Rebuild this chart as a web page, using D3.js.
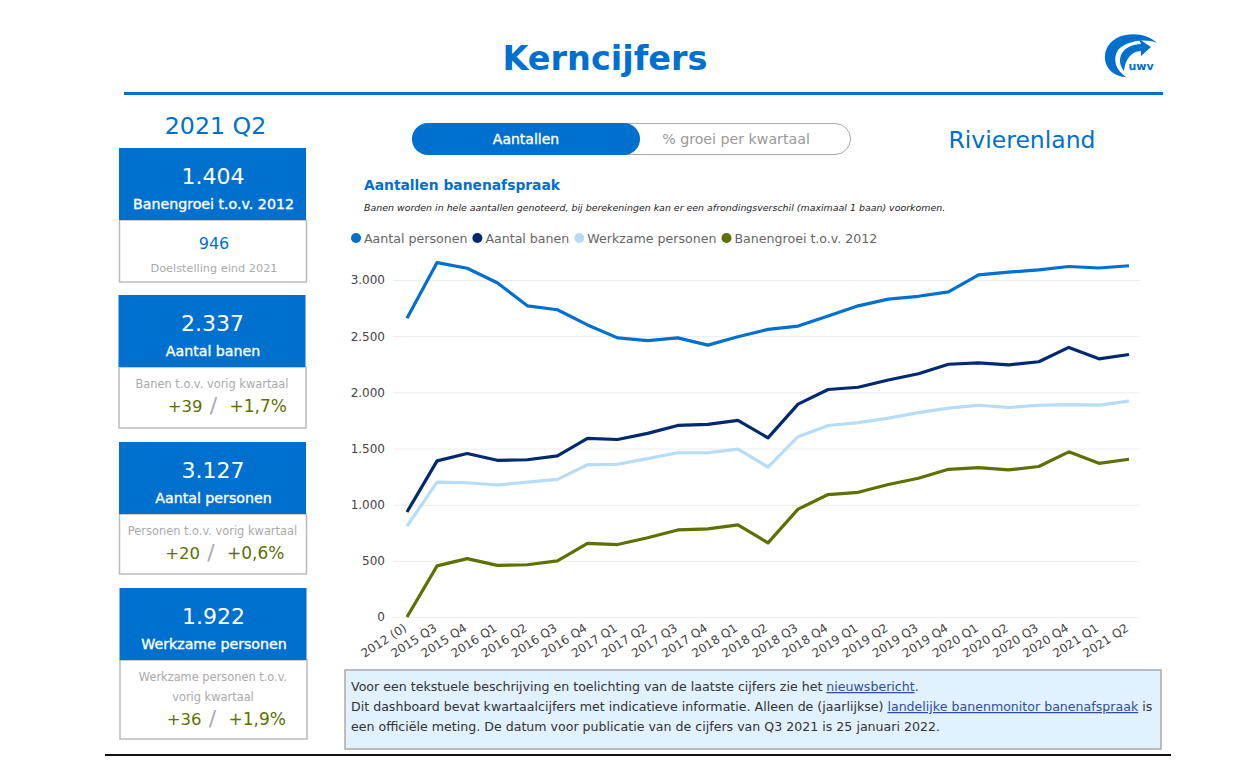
<!DOCTYPE html>
<html>
<head>
<meta charset="utf-8">
<title>Kerncijfers</title>
<script src="https://cdn.jsdelivr.net/npm/d3@7"></script>
<style>
	html, body {margin: 0; padding: 0; background: #fff;}
	svg {display: block;}
	text {font-family: "DejaVu Sans", Verdana, sans-serif;}
	.axis .domain {display: none;}
	.grid line {stroke: #ececec;}
	.grid text {display: none;}
	.grid .domain {display: none;}
	.axis text {fill: #444; font-size: 12px;}
	.axis line {display: none;}
	.link {fill: #2f4f9e; text-decoration: underline;}
	.semi {stroke: #fff; stroke-width: .35;}
</style>
</head>
<body>
<svg id="page" width="1252" height="768"></svg>
<script>
var quarters = ["2012 (0)", "2015 Q3", "2015 Q4", "2016 Q1", "2016 Q2", "2016 Q3", "2016 Q4", "2017 Q1", "2017 Q2", "2017 Q3", "2017 Q4", "2018 Q1", "2018 Q2", "2018 Q3", "2018 Q4", "2019 Q1", "2019 Q2", "2019 Q3", "2019 Q4", "2020 Q1", "2020 Q2", "2020 Q3", "2020 Q4", "2021 Q1", "2021 Q2"];
var personen = [2660, 3155, 3105, 2975, 2770, 2735, 2600, 2485, 2460, 2485, 2420, 2495, 2560, 2590, 2680, 2770, 2830, 2855, 2895, 3045, 3070, 3090, 3120, 3107, 3127];
var banen = [935, 1390, 1455, 1395, 1400, 1435, 1590, 1580, 1635, 1705, 1715, 1750, 1595, 1895, 2025, 2045, 2110, 2165, 2250, 2262, 2245, 2272, 2400, 2298, 2337];
var werkzaam = [810, 1200, 1195, 1175, 1200, 1225, 1355, 1360, 1410, 1462, 1462, 1495, 1335, 1605, 1705, 1730, 1770, 1820, 1860, 1885, 1865, 1885, 1890, 1886, 1922];
var groei = [0, 455, 520, 460, 465, 500, 655, 645, 705, 775, 785, 820, 660, 960, 1090, 1110, 1180, 1235, 1315, 1330, 1310, 1340, 1470, 1368, 1404];
var seriesNames = ["Aantal personen", "Aantal banen", "Werkzame personen", "Banengroei t.o.v. 2012"];
var yTicks = [0, 500, 1000, 1500, 2000, 2500, 3000];

var cardValues = ["1.404", "2.337", "3.127", "1.922"];
var cardLabels = ["Banengroei t.o.v. 2012", "Aantal banen", "Aantal personen", "Werkzame personen"];
var cardNotes = [["Doelstelling eind 2021"], ["Banen t.o.v. vorig kwartaal"], ["Personen t.o.v. vorig kwartaal"], ["Werkzame personen t.o.v.", "vorig kwartaal"]];
var cardDiffs = ["946", "+39", "+20", "+36"];
var cardPcts = [null, "+1,7%", "+0,6%", "+1,9%"];

var blue = "#0070cf", navy = "#00296f", pale = "#b7dcf7", olive = "#5e7000";
var colors = [blue, navy, pale, olive];
var svg = d3.select("#page");

// header
svg.append("text").attr("x", 605).attr("y", 70).attr("text-anchor", "middle").attr("font-size", 33.5).attr("font-weight", "bold").attr("fill", blue).text("Kerncijfers");
svg.append("rect").attr("x", 124).attr("y", 92).attr("width", 1039).attr("height", 3).attr("fill", blue);
svg.append("rect").attr("x", 105).attr("y", 754).attr("width", 1066).attr("height", 2).attr("fill", "#111");

// logo, a crescent and an arrow
var logo = svg.append("g").attr("fill", blue);
logo.append("path").attr("d", "M1157 43C1145 31 1118 31 1108 46C1100 60 1108 76 1126 77C1116 70 1112 60 1118 50C1126 41 1145 38 1157 43Z");
logo.append("path").attr("d", "M1124 71C1114 58 1124 44 1141 44L1139 39L1151 47L1141 56L1141 51C1131 51 1125 60 1124 71Z");
svg.append("text").attr("x", 1141).attr("y", 70).attr("text-anchor", "middle").attr("font-size", 11).attr("font-weight", "bold").attr("fill", blue).text("uwv");

// period and region
svg.append("text").attr("x", 215.5).attr("y", 134).attr("text-anchor", "middle").attr("font-size", 23.7).attr("fill", blue).text("2021 Q2");
svg.append("text").attr("x", 1022).attr("y", 148).attr("text-anchor", "middle").attr("font-size", 23.5).attr("fill", blue).text("Rivierenland");

// toggle
svg.append("rect").attr("x", 412.5).attr("y", 123.5).attr("width", 438).attr("height", 31).attr("rx", 15.5).attr("fill", "#fff").attr("stroke", "#aaa");
svg.append("rect").attr("x", 412).attr("y", 123).attr("width", 228).attr("height", 32).attr("rx", 16).attr("fill", blue);
svg.append("text").attr("class", "semi").attr("x", 526).attr("y", 144).attr("text-anchor", "middle").attr("font-size", 14).attr("fill", "#fff").text("Aantallen");
svg.append("text").attr("x", 736).attr("y", 144).attr("text-anchor", "middle").attr("font-size", 14.2).attr("fill", "#999").text("% groei per kwartaal");

// kpi cards down the left side
var cardTop = d3.scaleOrdinal().domain(cardValues).range([148, 295, 442, 588]);
var cardBottom = d3.scaleOrdinal().domain(cardValues).range([282, 428, 574, 739]);
var cardShift = d3.scaleOrdinal().domain(cardValues).range([0, -0.5, 0, 0.5]);
var rowShift = [0, 0, -3, -2];
var cards = svg.selectAll("g.card").data(cardValues).enter().append("g").attr("class", "card").attr("transform", function(d) {return "translate(" + cardShift(d) + ",0)";});
cards.append("rect").attr("x", 119.5).attr("y", function(d) {return cardTop(d) + 72;}).attr("width", 187).attr("height", function(d) {return cardBottom(d) - cardTop(d) - 72;}).attr("fill", "#fff").attr("stroke", "#bbb").attr("stroke-width", 1.5);
cards.append("rect").attr("x", 119).attr("y", cardTop).attr("width", 187).attr("height", 72).attr("fill", blue);
cards.append("text").attr("x", 213).attr("y", function(d) {return cardTop(d) + 36;}).attr("text-anchor", "middle").attr("font-size", 22).attr("fill", "#fff").text(function(d) {return d;});
cards.append("text").attr("class", "semi").attr("x", 213.5).attr("y", function(d) {return cardTop(d) + 61;}).attr("text-anchor", "middle").attr("font-size", 14.2).attr("fill", "#fff").text(function(d, i) {return cardLabels[i];});
cards.each(function(d, i) {
	var card = d3.select(this);
	var top = cardTop(d) + 72;
	if(i == 0) {
		card.append("text").attr("x", 214).attr("y", top + 29).attr("text-anchor", "middle").attr("font-size", 16).attr("fill", blue).text(cardDiffs[i]);
		card.append("text").attr("x", 214).attr("y", top + 52).attr("text-anchor", "middle").attr("font-size", 11.3).attr("fill", "#aaa").text(cardNotes[i][0]);
		return;
	}
	cardNotes[i].forEach(function(line, n) {
		card.append("text").attr("x", 212.5).attr("y", top + 21 + n * 20).attr("text-anchor", "middle").attr("font-size", 11.4).attr("fill", "#aaa").text(line);
	});
	var rowY = top + 44.5 + (cardNotes[i].length - 1) * 20;
	card.append("text").attr("x", 203 + rowShift[i]).attr("y", rowY).attr("text-anchor", "end").attr("font-size", 16.5).attr("fill", olive).text(cardDiffs[i]);
	card.append("text").attr("x", 214 + rowShift[i]).attr("y", rowY + 1).attr("text-anchor", "middle").attr("font-size", 22).attr("fill", "#aaa").text("/");
	card.append("text").attr("x", 287.5 + rowShift[i]).attr("y", rowY).attr("text-anchor", "end").attr("font-size", 17).attr("fill", olive).text(cardPcts[i]);
});

// chart titles
svg.append("text").attr("x", 364).attr("y", 190).attr("font-size", 13.85).attr("font-weight", "bold").attr("fill", blue).text("Aantallen banenafspraak");
svg.append("text").attr("x", 364).attr("y", 211).attr("font-size", 9.44).attr("font-style", "italic").attr("fill", "#222").text("Banen worden in hele aantallen genoteerd, bij berekeningen kan er een afrondingsverschil (maximaal 1 baan) voorkomen.");

// legend, each entry placed after the width of the previous one
var legendX = 356;
seriesNames.forEach(function(name, i) {
	svg.append("circle").attr("cx", legendX).attr("cy", 238).attr("r", 5).attr("fill", colors[i]);
	var label = svg.append("text").attr("x", legendX + 8).attr("y", 242.5).attr("font-size", 12.6).attr("fill", "#666").text(name);
	legendX += 8 + label.node().getComputedTextLength() + 10;
});

// scales and axes
var x = d3.scalePoint().domain(quarters).range([407, 1129]);
var y = d3.scaleLinear().domain([0, 3000]).range([617, 280]);
var dutch = function(v) {return d3.format(",")(v).replace(/,/g, ".");};

svg.append("g").attr("class", "grid").attr("transform", "translate(393,0)").call(d3.axisLeft(y).tickValues(yTicks).tickSize(-747));
svg.append("g").attr("class", "axis").attr("transform", "translate(393,0)").call(d3.axisLeft(y).tickValues(yTicks).tickSize(0).tickPadding(8).tickFormat(dutch));
var xaxis = svg.append("g").attr("class", "axis").attr("transform", "translate(0,617)").call(d3.axisBottom(x).tickSize(0));
xaxis.selectAll("text").attr("text-anchor", "end").attr("dx", 0).attr("dy", 0).attr("y", 0).attr("transform", "translate(0,13) rotate(-33)");

// lines, personen drawn first as in the legend order
var line = d3.line().x(function(v, i) {return x(quarters[i]);}).y(function(v) {return y(v);});
svg.selectAll("path.serie").data([personen, banen, werkzaam, groei]).enter().append("path").attr("class", "serie").attr("d", line).attr("fill", "none").attr("stroke", function(d, i) {return colors[i];}).attr("stroke-width", 3.2).attr("stroke-linejoin", "round");

// info box
svg.append("rect").attr("x", 345).attr("y", 670).attr("width", 816).attr("height", 79).attr("fill", "#e1f1fd").attr("stroke", "#aaa").attr("stroke-width", 1.5);
var info = svg.append("g").attr("font-size", 12.6).attr("fill", "#333");
var t1 = info.append("text").attr("x", 351).attr("y", 691);
t1.append("tspan").text("Voor een tekstuele beschrijving en toelichting van de laatste cijfers zie het ");
t1.append("tspan").attr("class", "link").text("nieuwsbericht");
t1.append("tspan").text(".");
var t2 = info.append("text").attr("x", 351).attr("y", 711);
t2.append("tspan").text("Dit dashboard bevat kwartaalcijfers met indicatieve informatie. Alleen de (jaarlijkse) ");
t2.append("tspan").attr("class", "link").text("landelijke banenmonitor banenafspraak");
t2.append("tspan").text(" is");
info.append("text").attr("x", 351).attr("y", 731).text("een officiële meting. De datum voor publicatie van de cijfers van Q3 2021 is 25 januari 2022.");
</script>
</body>
</html>
